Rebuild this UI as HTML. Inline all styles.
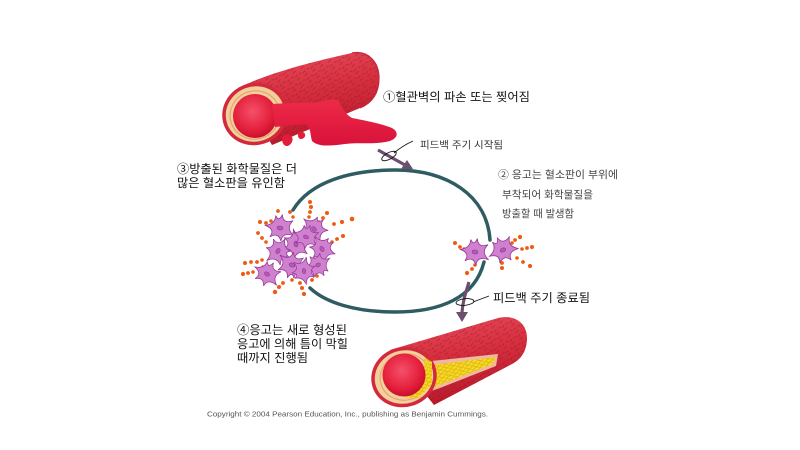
<!DOCTYPE html>
<html>
<head>
<meta charset="utf-8">
<style>
html,body{margin:0;padding:0;background:#fff;}
body{width:800px;height:450px;overflow:hidden;}
svg{display:block;}
.t{font-family:"Liberation Sans","Noto Sans CJK KR",sans-serif;fill:#111;}
</style>
</head>
<body>
<svg width="800" height="450" viewBox="0 0 800 450" xmlns="http://www.w3.org/2000/svg">
<defs>
  <linearGradient id="bodyG" x1="0" y1="0" x2="0.3" y2="1">
    <stop offset="0" stop-color="#e85060"/>
    <stop offset="0.5" stop-color="#d6303f"/>
    <stop offset="1" stop-color="#b81a2c"/>
  </linearGradient>
  <radialGradient id="lumG" cx="0.45" cy="0.4" r="0.6">
    <stop offset="0" stop-color="#f4506a"/>
    <stop offset="0.7" stop-color="#e5203c"/>
    <stop offset="1" stop-color="#c8102c"/>
  </radialGradient>
  <linearGradient id="bloodG" x1="0" y1="0" x2="0" y2="1">
    <stop offset="0" stop-color="#ee2a48"/>
    <stop offset="1" stop-color="#d8123a"/>
  </linearGradient>
  <pattern id="tex" width="9" height="8" patternUnits="userSpaceOnUse" patternTransform="rotate(-30)">
    <path d="M1,2 l4,-1 M6,5 l3,1 M1,7 l3,-1.5" stroke="#9c1020" stroke-width="0.7" opacity="0.55" fill="none"/>
  </pattern>
  <pattern id="cells" width="7" height="4" patternUnits="userSpaceOnUse" patternTransform="rotate(-18)">
    <rect width="7" height="4" fill="#f6dc2a"/>
    <ellipse cx="3.5" cy="2" rx="3" ry="1.5" fill="none" stroke="#d9a400" stroke-width="0.6"/>
  </pattern>
  <path id="pl" d="M0,-13 Q2,-4 11,-9 Q5,-1 14,5 Q3,3 3,12 Q-1,4 -8,10 Q-4,2 -14,0 Q-5,-3 -6,-11 Q-2,-5 0,-13 Z"/>
  <g id="plt">
    <use href="#pl" fill="#cf80cf" stroke="#983a98" stroke-width="0.8"/>
    <ellipse cx="0" cy="0" rx="2.8" ry="1.9" fill="#b45ab4" stroke="#8a2e8a" stroke-width="0.5"/>
  </g>
</defs>

<!-- ===== Top vessel ===== -->
<path d="M238,88 C270,72 320,60 352,53 C368,50 379,62 379,78 C379,93 372,103 360,108 L272,145 Z" fill="url(#bodyG)"/>
<path d="M238,88 C270,72 320,60 352,53 C368,50 379,62 379,78 C379,93 372,103 360,108 L272,145 Z" fill="url(#tex)"/>
<path d="M352,53 C368,50 379,62 379,78 C379,93 372,103 360,108" fill="none" stroke="#c0283a" stroke-width="1.2"/>
<!-- rim -->
<ellipse cx="255" cy="114" rx="33" ry="31" transform="rotate(-20 255 114)" fill="#d22a3c"/>
<ellipse cx="255" cy="114" rx="29.5" ry="27.5" transform="rotate(-20 255 114)" fill="#f2cf9c"/>
<ellipse cx="255" cy="115" rx="25" ry="24" transform="rotate(-20 255 115)" fill="none" stroke="#e8a070" stroke-width="1.2"/>
<circle cx="255" cy="116" r="22" fill="url(#lumG)"/>
<!-- blood spill -->
<path d="M272,104 C290,103 305,102 315,103 C325,100 333,99 338,100 C342,108 345,114 352,118 C368,121 382,124 392,128 C399,132 398,138 390,141 C375,145 360,142 345,144 C330,146 318,147 312,141 C310,134 311,128 306,124 C296,125 285,126 275,127 Z" fill="url(#bloodG)"/>
<path d="M283,136 C286,134 290,134 292,137 C294,141 290,146 287,146 C283,146 281,141 283,136 Z" fill="#e41c3c"/>
<path d="M299,132 C301,131 304,132 305,134 C306,137 303,139 301,139 C298,139 297,135 299,132 Z" fill="#e41c3c"/>

<!-- ===== Bottom vessel ===== -->
<path d="M390,350 L498,318 C516,314 527,324 527,338 C527,352 520,360 512,364 L434,405 Z" fill="url(#bodyG)"/>
<path d="M390,350 L498,318 C516,314 527,324 527,338 C527,352 520,360 512,364 L434,405 Z" fill="url(#tex)"/>
<!-- plaque strip cut -->
<path d="M422,362 L498,354 L496,366 L440,388 L422,394 Z" fill="#f0b8a0"/>
<path d="M424,366 L496,357 L493,364 L442,384 L424,391 Z" fill="url(#cells)"/>
<!-- rim -->
<ellipse cx="404" cy="377" rx="33" ry="30" transform="rotate(-18 404 377)" fill="#d22a3c"/>
<ellipse cx="404" cy="377" rx="29.5" ry="26.5" transform="rotate(-18 404 377)" fill="#f2cf9c"/>
<ellipse cx="405" cy="377" rx="25" ry="23" transform="rotate(-18 405 377)" fill="none" stroke="#e8a070" stroke-width="1.1"/>
<!-- yellow crescent lower-right -->
<path d="M410,398 C420,396 428,388 430,378 C431,370 428,362 424,358 C426,372 420,388 404,396 Z" fill="url(#cells)"/>
<path d="M404,397 C418,396 429,386 430,374 C430,366 427,360 424,357 L432,362 L432,384 L418,398 Z" fill="url(#cells)"/>
<circle cx="404" cy="375" r="21.5" fill="url(#lumG)"/>

<!-- ===== Feedback cycle ===== -->
<path d="M293,210 C310,182 350,170 395,170 C447,170 487,195 490,240" fill="none" stroke="#2e5c62" stroke-width="3.5" stroke-linecap="round"/>
<path d="M484,262 C475,298 440,312 395,312 C356,312 326,303 310,288" fill="none" stroke="#2e5c62" stroke-width="3.5" stroke-linecap="round"/>

<!-- top arrow -->
<path d="M378,150 L405,165" stroke="#6c4f6e" stroke-width="3.2" fill="none"/>
<polygon points="413,169 401,169 407,160" fill="#6c4f6e"/>
<ellipse cx="389" cy="156" rx="8" ry="3.3" transform="rotate(-28 389 156)" fill="none" stroke="#111" stroke-width="0.9"/>
<path d="M394,153 Q402,146 413,141" fill="none" stroke="#111" stroke-width="0.9"/>

<!-- bottom arrow -->
<path d="M469,282 C466,292 463,300 462,312" stroke="#6c4f6e" stroke-width="3.2" fill="none"/>
<polygon points="456,312 468,312 462,322" fill="#6c4f6e"/>
<ellipse cx="465" cy="302" rx="9" ry="3.3" transform="rotate(-6 465 302)" fill="none" stroke="#111" stroke-width="0.9"/>
<path d="M473,302 Q481,299 489,296" fill="none" stroke="#111" stroke-width="0.9"/>

<!-- left platelet cluster -->
<g fill="#ee5a10">
  <circle cx="278" cy="211" r="1.9"/><circle cx="290" cy="212" r="1.9"/><circle cx="293" cy="217" r="1.7"/>
  <circle cx="310" cy="202" r="2"/><circle cx="311" cy="207" r="2"/><circle cx="310" cy="212" r="1.9"/><circle cx="309" cy="217" r="1.8"/>
  <circle cx="327" cy="213" r="2"/><circle cx="323" cy="218" r="1.9"/><circle cx="319" cy="222" r="1.8"/>
  <circle cx="342" cy="222" r="2.1"/><circle cx="352" cy="219" r="2.3"/><circle cx="334" cy="224" r="1.9"/>
  <circle cx="260" cy="222" r="2"/><circle cx="266" cy="223" r="1.9"/><circle cx="271" cy="221" r="1.8"/>
  <circle cx="258" cy="233" r="1.9"/><circle cx="262" cy="238" r="1.9"/><circle cx="266" cy="242" r="1.8"/>
  <circle cx="343" cy="236" r="2"/><circle cx="337" cy="239" r="1.9"/><circle cx="332" cy="242" r="1.8"/><circle cx="327" cy="245" r="1.8"/>
  <circle cx="330" cy="252" r="1.9"/>
  <circle cx="245" cy="263" r="2"/><circle cx="251" cy="262" r="1.9"/><circle cx="257" cy="262" r="1.9"/><circle cx="262" cy="260" r="1.8"/>
  <circle cx="243" cy="274" r="2.1"/><circle cx="248" cy="273" r="1.9"/><circle cx="253" cy="272" r="1.8"/>
  <circle cx="263" cy="267" r="1.8"/>
  <circle cx="275" cy="292" r="2.2"/><circle cx="279" cy="287" r="2"/><circle cx="283" cy="283" r="1.9"/>
  <circle cx="292" cy="280" r="1.8"/>
  <circle cx="300" cy="283" r="1.9"/><circle cx="302" cy="288" r="2"/><circle cx="304" cy="294" r="2.1"/>
  <circle cx="312" cy="280" r="1.9"/><circle cx="317" cy="276" r="1.8"/><circle cx="308" cy="273" r="1.7"/>
</g>
<use href="#plt" transform="translate(280 228) rotate(10) scale(1.05)"/>
<use href="#plt" transform="translate(314 229) rotate(45) scale(1.0)"/>
<use href="#plt" transform="translate(296 244) rotate(80) scale(1.05)"/>
<use href="#plt" transform="translate(306 237) rotate(20) scale(0.95)"/>
<use href="#plt" transform="translate(322 249) rotate(60) scale(1.0)"/>
<use href="#plt" transform="translate(278 251) rotate(120) scale(1.0)"/>
<use href="#plt" transform="translate(292 265) rotate(200) scale(1.05)"/>
<use href="#plt" transform="translate(318 265) rotate(150) scale(0.95)"/>
<use href="#plt" transform="translate(267 274) rotate(30) scale(1.0)"/>
<use href="#plt" transform="translate(304 271) rotate(260) scale(0.95)"/>

<!-- right platelet cluster -->
<g fill="#ee5a10">
  <circle cx="455" cy="243" r="2"/><circle cx="460" cy="247" r="1.9"/><circle cx="464" cy="249" r="1.8"/>
  <circle cx="520" cy="237" r="2.1"/><circle cx="515" cy="240" r="1.9"/><circle cx="512" cy="243" r="1.8"/>
  <circle cx="527" cy="248" r="1.9"/><circle cx="532" cy="247" r="2"/><circle cx="522" cy="249" r="1.8"/>
  <circle cx="500" cy="258" r="1.8"/><circle cx="502" cy="263" r="1.9"/><circle cx="502" cy="268" r="2"/>
  <circle cx="517" cy="258" r="1.8"/><circle cx="523" cy="262" r="1.9"/><circle cx="530" cy="266" r="2.1"/>
  <circle cx="475" cy="265" r="1.8"/><circle cx="472" cy="269" r="1.9"/><circle cx="467" cy="273" r="2.1"/>
</g>
<use href="#plt" transform="translate(475 252) rotate(10) scale(1.05)"/>
<use href="#plt" transform="translate(503 250) rotate(-25) scale(1.05)"/>

<!-- ===== Labels ===== -->
<text class="t" x="383" y="97" font-size="12" dominant-baseline="central" textLength="147" lengthAdjust="spacingAndGlyphs">①혈관벽의 파손 또는 찢어짐</text>
<text class="t" x="420" y="146" font-size="10" style="fill:#333" dominant-baseline="central" textLength="83" lengthAdjust="spacingAndGlyphs">피드백 주기 시작됨</text>
<text class="t" x="177" y="169" font-size="12" dominant-baseline="central" textLength="120" lengthAdjust="spacingAndGlyphs">③방출된 화학물질은 더</text>
<text class="t" x="177" y="183" font-size="12" dominant-baseline="central" textLength="108" lengthAdjust="spacingAndGlyphs">많은 혈소판을 유인함</text>
<text class="t" x="498" y="175" font-size="10.5" style="fill:#444" dominant-baseline="central" textLength="120" lengthAdjust="spacingAndGlyphs">② 응고는 혈소판이 부위에</text>
<text class="t" x="502" y="195" font-size="10.5" style="fill:#444" dominant-baseline="central" textLength="91" lengthAdjust="spacingAndGlyphs">부착되어 화학물질을</text>
<text class="t" x="502" y="214" font-size="10.5" style="fill:#444" dominant-baseline="central" textLength="72" lengthAdjust="spacingAndGlyphs">방출할 때 발생함</text>
<text class="t" x="493" y="298" font-size="12" dominant-baseline="central" textLength="97" lengthAdjust="spacingAndGlyphs">피드백 주기 종료됨</text>
<text class="t" x="237" y="330" font-size="12" dominant-baseline="central" textLength="110" lengthAdjust="spacingAndGlyphs">④응고는 새로 형성된</text>
<text class="t" x="237" y="344" font-size="12" dominant-baseline="central" textLength="111" lengthAdjust="spacingAndGlyphs">응고에 의해 틈이 막힐</text>
<text class="t" x="237" y="358" font-size="12" dominant-baseline="central" textLength="71" lengthAdjust="spacingAndGlyphs">때까지 진행됨</text>
<text class="t" x="207" y="414" font-size="7.2" style="fill:#555" dominant-baseline="central" textLength="281" lengthAdjust="spacingAndGlyphs">Copyright © 2004 Pearson Education, Inc., publishing as Benjamin Cummings.</text>
</svg>
</body>
</html>
